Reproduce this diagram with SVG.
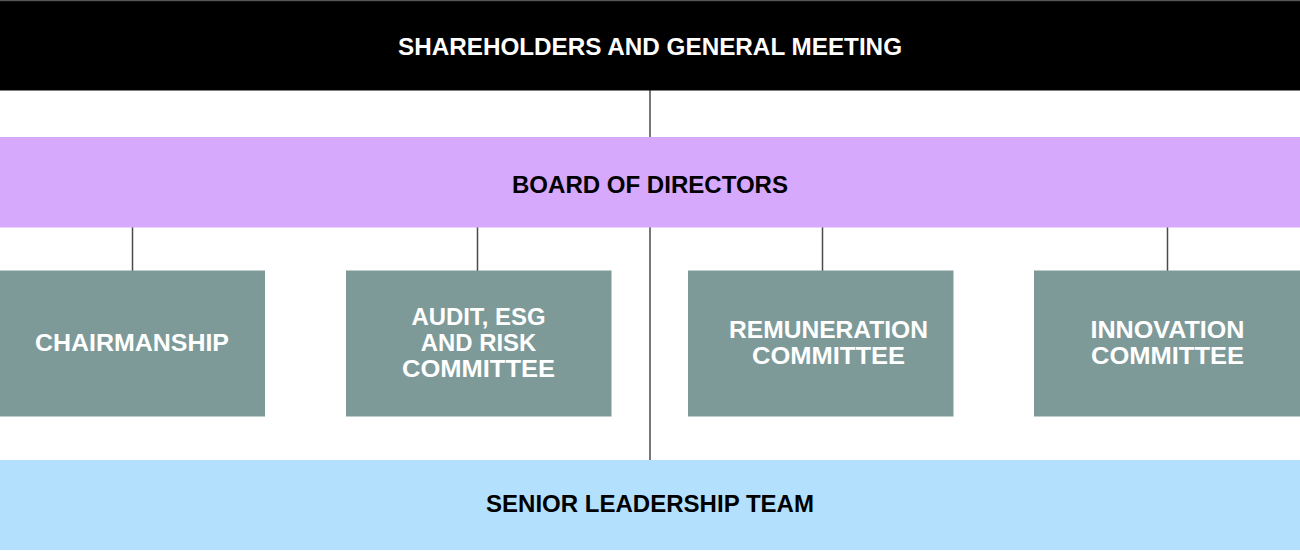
<svg xmlns="http://www.w3.org/2000/svg" width="1300" height="551" viewBox="0 0 1300 551">
<style>
  .lbl { font-family: "Liberation Sans", Arial, sans-serif; font-weight: bold; font-size: 24px; text-anchor: middle; }
  .w { fill: #ffffff; }
  .k { fill: #000000; }
  .box { fill: #7d9a99; }
  .conn line { stroke: #4a4a4a; stroke-width: 1.5; }
</style>
<rect x="0" y="0" width="1300" height="551" fill="#ffffff"/>
<g class="conn" id="connectors">
  <line x1="650" y1="90" x2="650" y2="137"/>
  <line x1="650" y1="227" x2="650" y2="460"/>
  <line x1="132.5" y1="227" x2="132.5" y2="271"/>
  <line x1="477.5" y1="227" x2="477.5" y2="271"/>
  <line x1="822.5" y1="227" x2="822.5" y2="271"/>
  <line x1="1167.5" y1="227" x2="1167.5" y2="271"/>
</g>
<g id="shareholders">
  <rect x="0" y="0" width="1300" height="90.5" fill="#000000"/>
  <rect x="0" y="0" width="1300" height="1.2" fill="#555555"/>
  <text class="lbl w" x="650" y="54.5" textLength="504" lengthAdjust="spacingAndGlyphs">SHAREHOLDERS AND GENERAL MEETING</text>
</g>
<g id="board">
  <rect x="0" y="137" width="1300" height="90.5" fill="#d6a9fd"/>
  <text class="lbl k" x="650" y="193.3" textLength="276" lengthAdjust="spacingAndGlyphs">BOARD OF DIRECTORS</text>
</g>
<g id="chairmanship">
  <rect class="box" x="0" y="270.5" width="265" height="146"/>
  <text class="lbl w" x="132" y="351" textLength="194" lengthAdjust="spacingAndGlyphs">CHAIRMANSHIP</text>
</g>
<g id="audit">
  <rect class="box" x="346" y="270.5" width="265.5" height="146"/>
  <text class="lbl w" x="478.5" y="325" textLength="134" lengthAdjust="spacingAndGlyphs">AUDIT, ESG</text>
  <text class="lbl w" x="478.5" y="351" textLength="115.5" lengthAdjust="spacingAndGlyphs">AND RISK</text>
  <text class="lbl w" x="478.5" y="377" textLength="153" lengthAdjust="spacingAndGlyphs">COMMITTEE</text>
</g>
<g id="remuneration">
  <rect class="box" x="688" y="270.5" width="265.5" height="146"/>
  <text class="lbl w" x="828.5" y="338" textLength="199" lengthAdjust="spacingAndGlyphs">REMUNERATION</text>
  <text class="lbl w" x="828.5" y="364" textLength="153" lengthAdjust="spacingAndGlyphs">COMMITTEE</text>
</g>
<g id="innovation">
  <rect class="box" x="1034" y="270.5" width="266" height="146"/>
  <text class="lbl w" x="1167.5" y="338" textLength="154" lengthAdjust="spacingAndGlyphs">INNOVATION</text>
  <text class="lbl w" x="1167.5" y="364" textLength="153" lengthAdjust="spacingAndGlyphs">COMMITTEE</text>
</g>
<g id="senior">
  <rect x="0" y="460" width="1300" height="90" fill="#b3e0fd"/>
  <text class="lbl k" x="650" y="512.3" textLength="328" lengthAdjust="spacingAndGlyphs">SENIOR LEADERSHIP TEAM</text>
</g>
</svg>
